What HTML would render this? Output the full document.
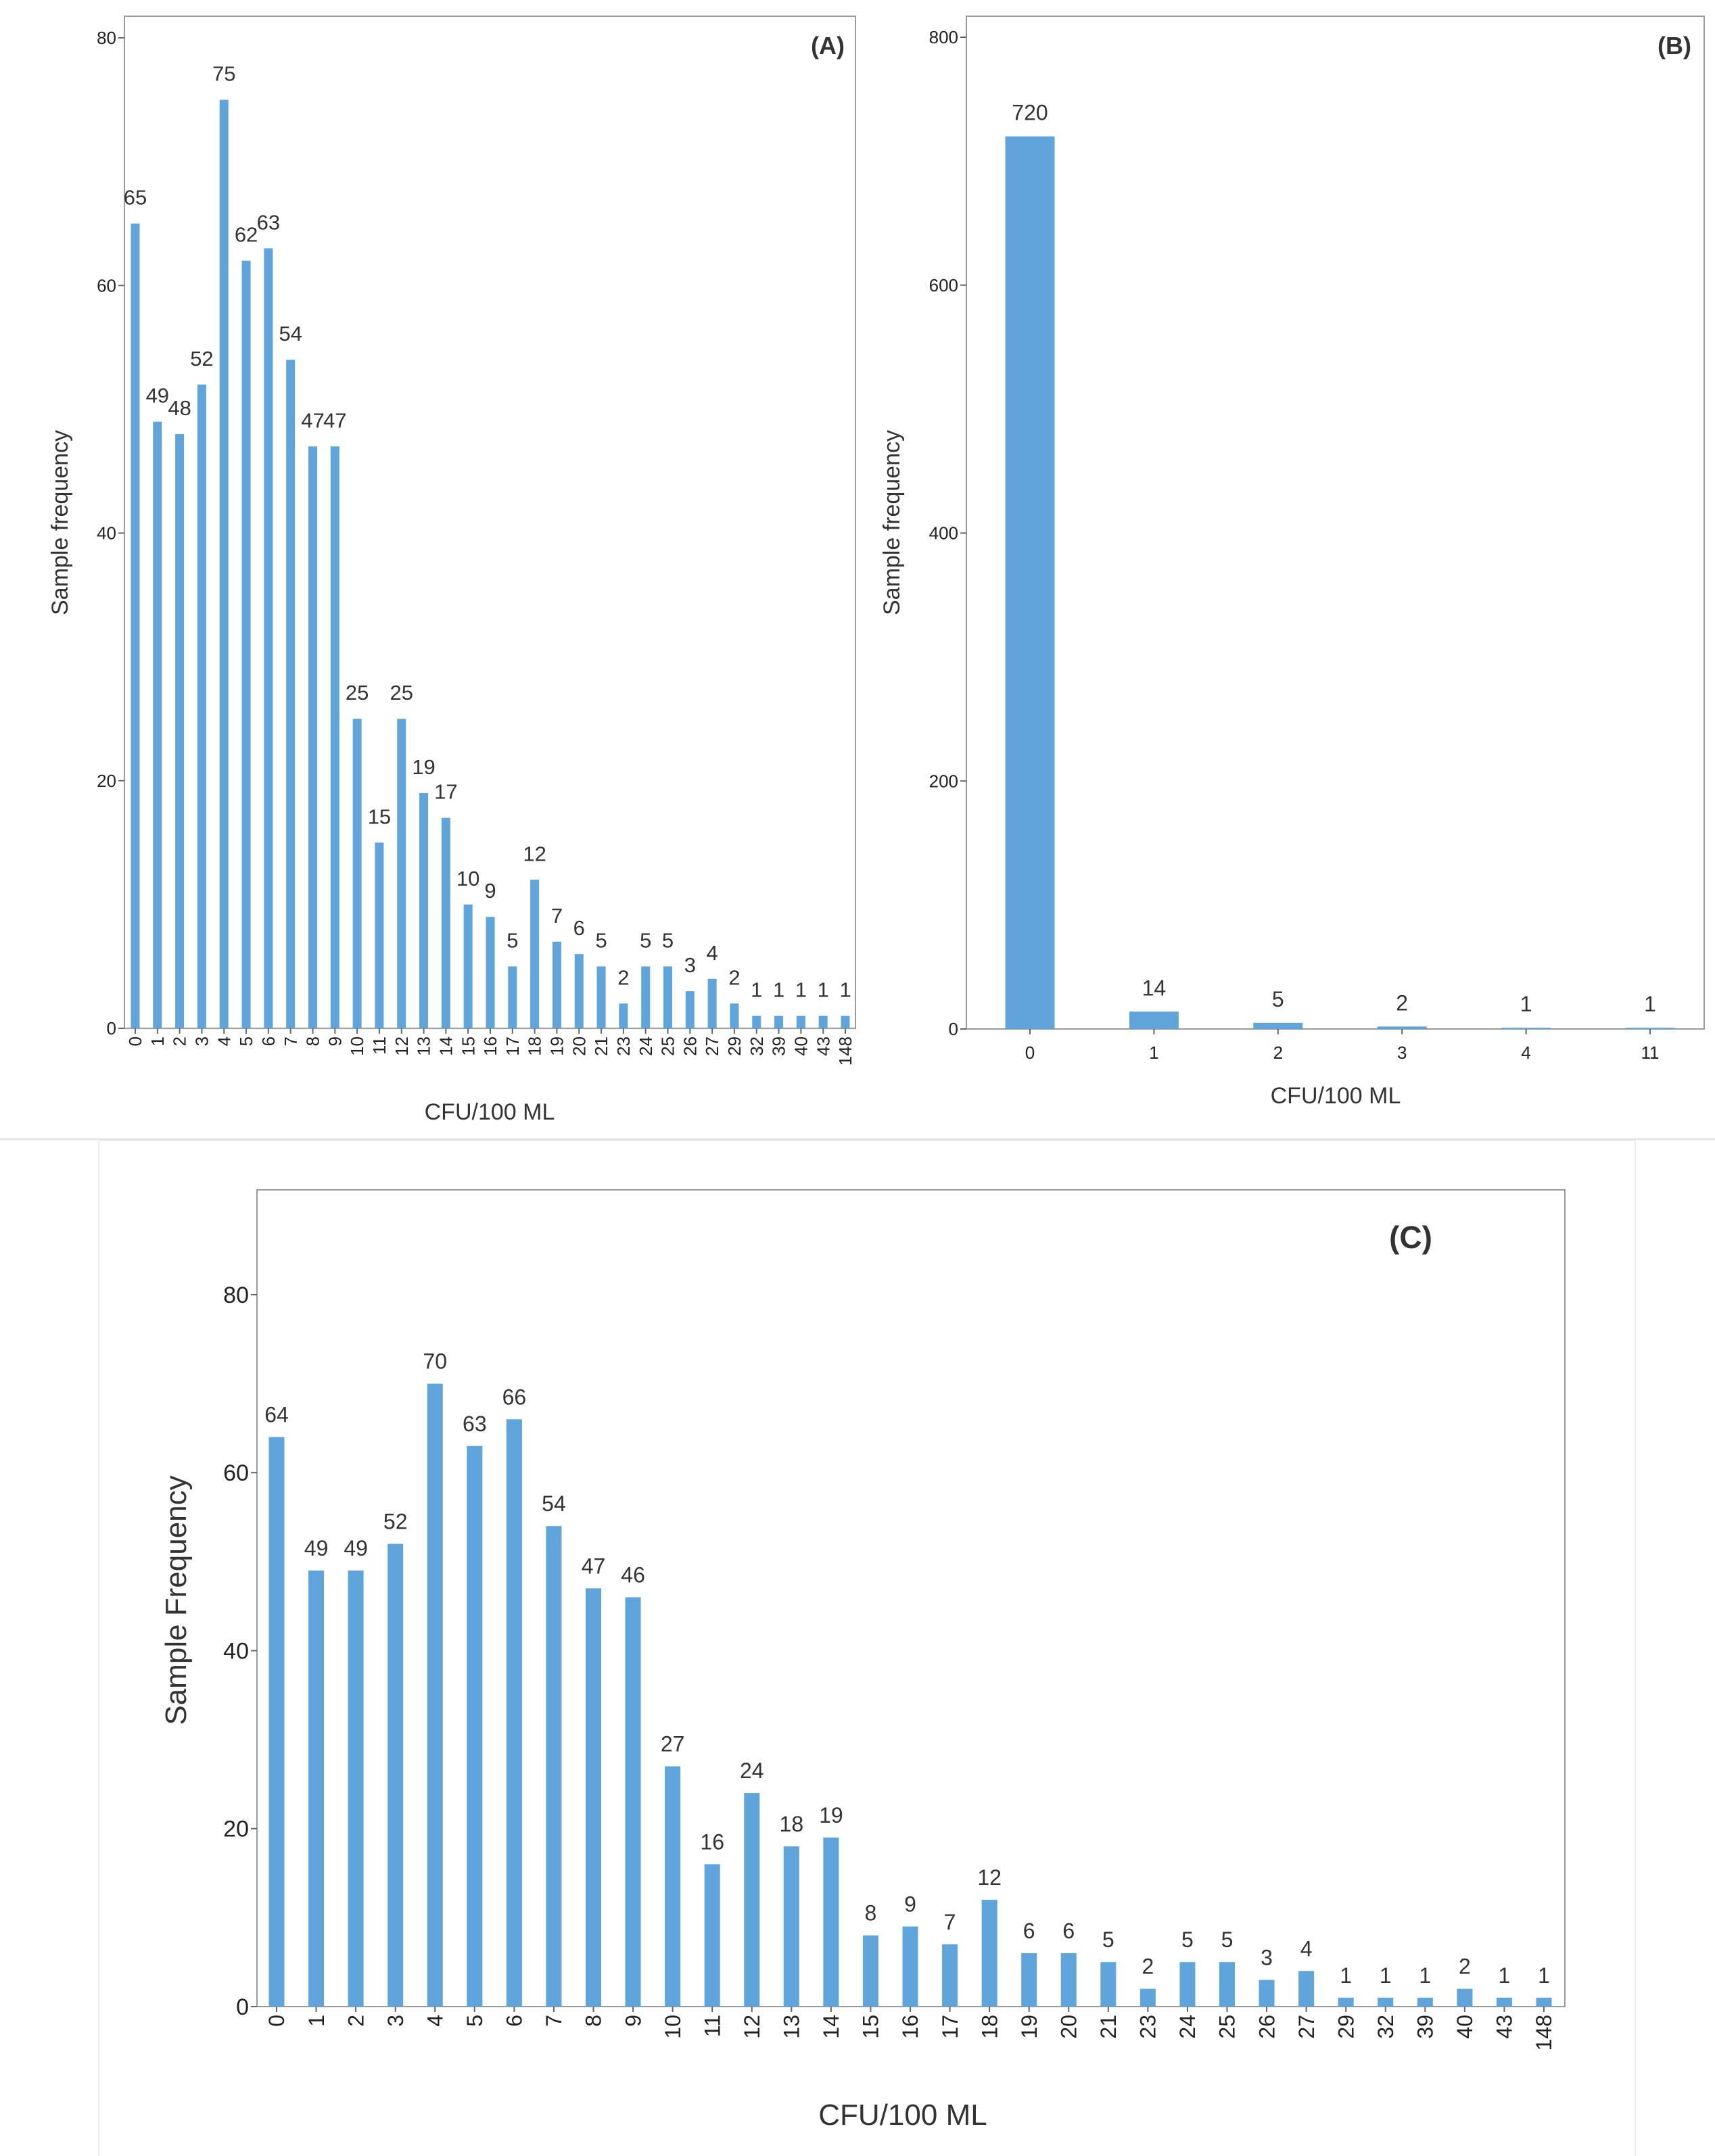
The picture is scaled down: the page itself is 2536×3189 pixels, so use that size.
<!DOCTYPE html>
<html><head><meta charset="utf-8"><style>
html,body{margin:0;padding:0;background:#fff;}
svg{display:block;font-family:"Liberation Sans",sans-serif;}
</style></head><body>
<svg id="root" width="2536" height="3189" viewBox="0 0 2536 3189" xmlns="http://www.w3.org/2000/svg">
<line x1="0" y1="1685" x2="2536" y2="1685" stroke="#e6e6e6" stroke-width="3"/>
<rect x="146" y="1687" width="2272" height="1510" fill="none" stroke="#ececec" stroke-width="2"/>
<g id="chartA"></g>
<g id="chartB"></g>
<g id="chartC"></g>
</svg>
<script>
const catsA = ["0","1","2","3","4","5","6","7","8","9","10","11","12","13","14","15","16","17","18","19","20","21","23","24","25","26","27","29","32","39","40","43","148"];
const valsA = [65,49,48,52,75,62,63,54,47,47,25,15,25,19,17,10,9,5,12,7,6,5,2,5,5,3,4,2,1,1,1,1,1];
const ticksA = [0,20,40,60,80];
const catsB = ["0","1","2","3","4","11"];
const valsB = [720,14,5,2,1,1];
const ticksB = [0,200,400,600,800];
const catsC = ["0","1","2","3","4","5","6","7","8","9","10","11","12","13","14","15","16","17","18","19","20","21","23","24","25","26","27","29","32","39","40","43","148"];
const valsC = [64,49,49,52,70,63,66,54,47,46,27,16,24,18,19,8,9,7,12,6,6,5,2,5,5,3,4,1,1,1,2,1,1];
const ticksC = [0,20,40,60,80];

const NS = "http://www.w3.org/2000/svg";
function mk(parent, tag, attrs, text){
  const e = document.createElementNS(NS, tag);
  for (const k in attrs) e.setAttribute(k, attrs[k]);
  if (text !== undefined) e.textContent = text;
  parent.appendChild(e);
  return e;
}

function drawChart(g, cfg, cats, vals, ticks){
  const yS = v => cfg.y0 - (v - ticks[0]) / (cfg.yMax - ticks[0]) * (cfg.y0 - cfg.yTop);
  const xS = i => cfg.xFirst + i * (cfg.xLast - cfg.xFirst) / (cats.length - 1);
  const frame = mk(g, "rect", {x:cfg.fl, y:cfg.ft, width:cfg.fr-cfg.fl, height:cfg.y0-cfg.ft, fill:"none", stroke:"#9a9a9a", "stroke-width":2});
  
  
  ticks.forEach(t => {
    const y = yS(t);
    const tl = mk(g, "line", {x1:cfg.fl-9, y1:y, x2:cfg.fl, y2:y, stroke:"#666", "stroke-width":2});
    
    
    const tx = mk(g, "text", {x:cfg.fl-12, y:y+cfg.tickFs*0.35, "text-anchor":"end", "font-size":cfg.tickFs, fill:"#222"}, String(t));
    
    
  });
  cats.forEach((c, i) => {
    const x = xS(i), v = vals[i], y = yS(v);
    const b = mk(g, "rect", {x:x-cfg.bw/2, y:y, width:cfg.bw, height:Math.max(cfg.y0-y,1.5), fill:"#5fa5db"});
    
    
    const vl = mk(g, "text", {x:x, y:y-cfg.valGap, "text-anchor":"middle", "font-size":cfg.valFs, fill:"#333"}, String(v));
    
    
    const tk = mk(g, "line", {x1:x, y1:cfg.y0, x2:x, y2:cfg.y0+8, stroke:"#666", "stroke-width":2});
    
    
    let xl;
    if (cfg.rotate) {
      xl = mk(g, "text", {x:0, y:0, "text-anchor":"end", "font-size":cfg.xFs, fill:"#222",
        transform:"translate("+(x+cfg.xFs*0.35)+","+(cfg.y0+12)+") rotate(-90)"}, c);
    } else {
      xl = mk(g, "text", {x:x, y:cfg.y0+cfg.xFs+18, "text-anchor":"middle", "font-size":cfg.xFs, fill:"#222"}, c);
    }
    
    
  });
  const xt = mk(g, "text", {x:cfg.xtX, y:cfg.xtY, "text-anchor":"middle", "font-size":cfg.titleFs, fill:"#333"}, "CFU/100 ML");
  
  
  const yt = mk(g, "text", {x:0, y:0, "text-anchor":"middle", "font-size":cfg.titleFs, fill:"#333",
    transform:"translate("+cfg.ytX+","+cfg.ytY+") rotate(-90)"}, cfg.yTitle);
  
  
  const pl = mk(g, "text", {x:cfg.plX, y:cfg.plY, "text-anchor":"middle", "font-size":cfg.plFs, "font-weight":"bold", fill:"#333"}, cfg.panel);
  
  
}

drawChart(document.getElementById("chartA"), {
  fl:184, fr:1265, ft:24, y0:1521, yTop:56, yMax:80, xFirst:200, xLast:1250, bw:13,
  tickFs:26, valFs:31, valGap:28, xFs:26, rotate:true, titleFs:34,
  xtX:724, xtY:1656, ytX:100, ytY:773, yTitle:"Sample frequency", panel:"(A)", plX:1224, plY:80, plFs:36
}, catsA, valsA, ticksA);

drawChart(document.getElementById("chartB"), {
  fl:1429, fr:2520, ft:24, y0:1522, yTop:55, yMax:800, xFirst:1523, xLast:2440, bw:73,
  tickFs:26, valFs:32, valGap:24, xFs:26, rotate:false, titleFs:34,
  xtX:1975, xtY:1632, ytX:1330, ytY:773, yTitle:"Sample frequency", panel:"(B)", plX:2476, plY:80, plFs:36
}, catsB, valsB, ticksB);

drawChart(document.getElementById("chartC"), {
  fl:380, fr:2314, ft:1760, y0:2968, yTop:1915, yMax:80, xFirst:409, xLast:2283, bw:23,
  tickFs:34, valFs:32, valGap:22, xFs:32, rotate:true, titleFs:44,
  xtX:1335, xtY:3143, ytX:275, ytY:2367, yTitle:"Sample Frequency", panel:"(C)", plX:2086, plY:1846, plFs:46
}, catsC, valsC, ticksC);
</script>
</body></html>
